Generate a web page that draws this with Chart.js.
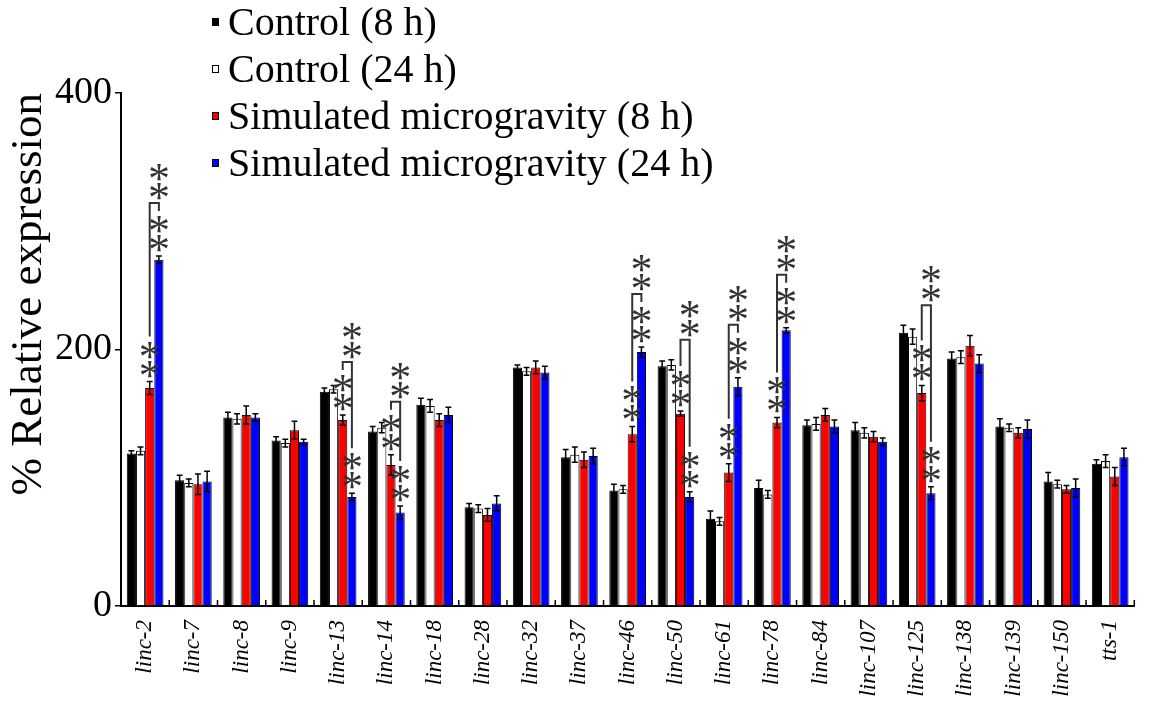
<!DOCTYPE html>
<html>
<head>
<meta charset="utf-8">
<script src="https://cdn.jsdelivr.net/npm/chart.js@4"></script>
<style>
  body { margin: 0; background: #fff; }
  #wrap { width: 1152px; height: 712px; }
  .warm { position: absolute; left: -9999px; font-family: "Liberation Serif"; }
</style>
</head>
<body>
<span class="warm">Control <i>linc</i> *</span>
<div id="wrap"><canvas id="exprChart" width="1152" height="712"></canvas></div>
<script>
// Genes
const categories = ['linc-2', 'linc-7', 'linc-8', 'linc-9', 'linc-13', 'linc-14', 'linc-18', 'linc-28', 'linc-32', 'linc-37',
    'linc-46', 'linc-50', 'linc-61', 'linc-78', 'linc-84', 'linc-107', 'linc-125', 'linc-138', 'linc-139', 'linc-150', 'tts-1'];

// % relative expression
const control8 = [119, 98, 147, 129, 167, 136, 157, 77, 186, 116, 90, 187, 68, 92, 141, 137, 213, 193, 140, 97, 111];
const control24 = [121, 96, 146, 127, 169, 139, 156, 76, 183, 118, 91, 188, 66, 87, 142, 135, 210, 194, 139, 95, 113];
const sim8 = [170, 95, 149, 137, 145, 110, 145, 71, 186, 114, 134, 150, 104, 143, 149, 132, 166, 203, 135, 91, 101];
const sim24 = [270, 97, 147, 128, 85, 73, 149, 80, 182, 117, 198, 85, 171, 215, 140, 128, 88, 189, 138, 92, 116];

// error bars
const control8Err = [2, 4, 4, 3, 3, 4, 5, 3, 2, 6, 5, 4, 6, 6, 4, 6, 6, 5, 6, 7, 3];
const control24Err = [3, 3, 4, 3, 3, 4, 5, 3, 3, 6, 3, 4, 3, 3, 5, 4, 6, 5, 3, 3, 5];
const sim8Err = [5, 8, 7, 7, 4, 8, 5, 5, 5, 6, 6, 2, 7, 4, 5, 4, 6, 8, 4, 3, 7];
const sim24Err = [3, 8, 3, 2, 3, 5, 6, 6, 5, 6, 4, 4, 7, 2, 5, 3, 5, 7, 7, 7, 7];

// genes marked ** (both treatments vs control, and 8 h vs 24 h bracket)
const sigCategories = ['linc-2', 'linc-13', 'linc-14', 'linc-46', 'linc-50', 'linc-61', 'linc-78', 'linc-125'];

const yTicks = [0, 200, 400];

const serif = '"Liberation Serif", "DejaVu Serif", serif';
Chart.defaults.font.family = serif;
Chart.defaults.color = '#000';

const errors = [control8Err, control24Err, sim8Err, sim24Err];

// error bars, significance marks, inner x ticks, legend
const extras = {
    id: 'extras',
    afterDatasetsDraw(chart) {
        const ctx = chart.ctx;
        const y = chart.scales.y;
        const x = chart.scales.x;
        ctx.save();

        // error bars
        ctx.strokeStyle = '#000';
        ctx.lineWidth = 1.5;
        chart.data.datasets.forEach((ds, di) => {
            const meta = chart.getDatasetMeta(di);
            meta.data.forEach((bar, i) => {
                const v = ds.data[i], e = errors[di][i];
                const top = y.getPixelForValue(v + e);
                const bot = y.getPixelForValue(v - e);
                const cap = bar.width * 0.32;
                ctx.beginPath();
                ctx.moveTo(bar.x, top); ctx.lineTo(bar.x, bot);
                ctx.moveTo(bar.x - cap, top); ctx.lineTo(bar.x + cap, top);
                ctx.moveTo(bar.x - cap, bot); ctx.lineTo(bar.x + cap, bot);
                ctx.stroke();
            });
        });

        // inner ticks between groups
        ctx.lineWidth = 1.5;
        ctx.beginPath();
        for (let i = 0; i <= categories.length; i++) {
            const px = x.getPixelForValue(i - 0.5);
            ctx.moveTo(px, x.top);
            ctx.lineTo(px, x.top - 6);
        }
        ctx.stroke();

        // stars and brackets
        const starSize = 44;
        ctx.font = starSize + 'px ' + serif;
        ctx.textAlign = 'center';
        ctx.textBaseline = 'alphabetic';
        ctx.fillStyle = '#333';
        const star2 = (cx, cy) => {
            ctx.fillText('*', cx, cy + starSize * 0.5);
            ctx.fillText('*', cx, cy - 19 + starSize * 0.5);
        };
        const redMeta = chart.getDatasetMeta(2);
        const blueMeta = chart.getDatasetMeta(3);
        sigCategories.forEach(name => {
            const i = categories.indexOf(name);
            const rb = redMeta.data[i], bb = blueMeta.data[i];
            const redTop = y.getPixelForValue(sim8[i] + sim8Err[i]);
            const blueTop = y.getPixelForValue(sim24[i] + sim24Err[i]);
            star2(rb.x, redTop - 14);
            star2(bb.x, blueTop - 14);
            const legL = redTop - 45;
            const legR = blueTop - 45;
            let groupTop = Math.min(
                y.getPixelForValue(control8[i] + control8Err[i]),
                y.getPixelForValue(control24[i] + control24Err[i])
            ) - 12;
            const by = Math.min(legL, legR, groupTop) - 8;
            ctx.strokeStyle = '#333';
            ctx.lineWidth = 2;
            ctx.beginPath();
            ctx.moveTo(rb.x, legL); ctx.lineTo(rb.x, by);
            ctx.lineTo(bb.x, by); ctx.lineTo(bb.x, legR);
            ctx.stroke();
            star2(bb.x, by - 13);
        });

        // legend
        ctx.font = '40px ' + serif;
        ctx.textAlign = 'left';
        ctx.fillStyle = '#000';
        chart.data.datasets.forEach((ds, di) => {
            const base = 35 + di * 47;
            ctx.fillStyle = ds.backgroundColor;
            ctx.fillRect(212, base - 17, 7, 8);
            ctx.strokeStyle = '#000';
            ctx.lineWidth = 1;
            ctx.strokeRect(212.5, base - 16.5, 6, 7);
            ctx.fillStyle = '#000';
            ctx.fillText(ds.label, 228, base);
        });
        ctx.restore();
    }
};

function drawChart() {
    new Chart(document.getElementById('exprChart'), {
        type: 'bar',
        data: {
            labels: categories,
            datasets: [
                { label: 'Control (8 h)', data: control8, backgroundColor: '#000000' },
                { label: 'Control (24 h)', data: control24, backgroundColor: '#ffffff' },
                { label: 'Simulated microgravity (8 h)', data: sim8, backgroundColor: '#ff0000' },
                { label: 'Simulated microgravity (24 h)', data: sim24, backgroundColor: '#0000ff' }
            ].map(d => Object.assign(d, {
                borderColor: '#000',
                borderWidth: 1,
                categoryPercentage: 0.76,
                barPercentage: 1.0
            }))
        },
        options: {
            responsive: false,
            animation: false,
            devicePixelRatio: 1,
            layout: { padding: { left: 0, top: 93, right: 9, bottom: 0 } },
            plugins: {
                legend: { display: false },
                tooltip: { enabled: false }
            },
            scales: {
                x: {
                    grid: { display: false, drawTicks: false },
                    border: { display: true, color: '#000', width: 2 },
                    ticks: {
                        minRotation: 90,
                        maxRotation: 90,
                        padding: 14,
                        font: { size: 23, style: 'italic' },
                        color: '#000'
                    },
                    afterFit: s => { s.height = 106; }
                },
                y: {
                    min: 0,
                    max: 400,
                    afterBuildTicks: s => { s.ticks = yTicks.map(v => ({ value: v })); },
                    grid: { drawOnChartArea: false, drawTicks: true, tickLength: 6, color: '#000', lineWidth: 1.5 },
                    border: { display: true, color: '#000', width: 2 },
                    ticks: { font: { size: 38 }, color: '#000', padding: 3 },
                    title: {
                        display: true,
                        text: '% Relative expression',
                        align: 'end',
                        font: { size: 45 },
                        color: '#000',
                        padding: { top: 2, bottom: 2 }
                    },
                    afterFit: s => { s.width = 121; }
                }
            }
        },
        plugins: [extras]
    });
}

Promise.all([
    document.fonts.load('40px "Liberation Serif"'),
    document.fonts.load('italic 23px "Liberation Serif"')
]).then(drawChart, drawChart);
</script>
</body>
</html>
